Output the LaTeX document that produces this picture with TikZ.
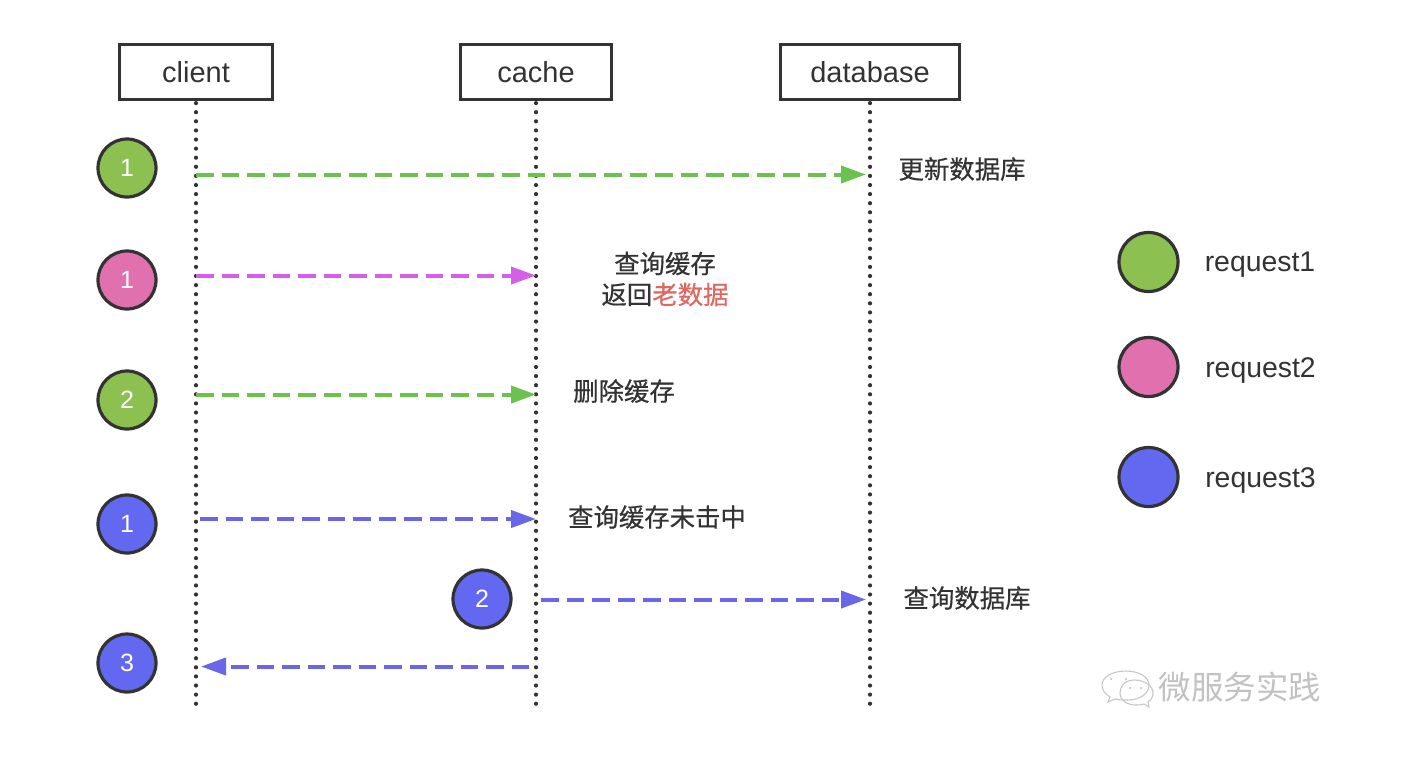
\documentclass[tikz,border=0pt]{standalone}
\usepackage{fontspec}
\setmainfont{Liberation Sans}
\newfontfamily\cjk[FakeBold=0.5]{Noto Sans CJK SC}
\newfontfamily\cjklight{Noto Sans CJK SC}
\usetikzlibrary{arrows.meta}
\definecolor{cgreen}{HTML}{8CC152}
\definecolor{cpink}{HTML}{E070AE}
\definecolor{cblue}{HTML}{6368F0}
\definecolor{agreen}{HTML}{6CC24F}
\definecolor{apink}{HTML}{D45FE8}
\definecolor{ablue}{HTML}{6A66E8}
\definecolor{ink}{HTML}{333333}
\definecolor{oldred}{HTML}{E0675F}
\tikzset{
  x=1pt,y=-1pt,
  actor/.style={draw=ink,line width=3.2pt,fill=white,minimum height=55pt,inner sep=0pt,font=\fontsize{29}{32}\selectfont,text=ink},
  life/.style={draw=ink,line width=4.2pt,line cap=round,dash pattern=on 0pt off 9.1pt},
  badge/.style={circle,draw=ink,line width=3.2pt,minimum size=58pt,inner sep=0pt,text=white,font=\fontsize{25}{28}\selectfont},
  msg/.style={line width=4pt,dash pattern=on 17.5pt off 8pt,-{Triangle[length=25pt,width=17pt]}},
  lab/.style={text=ink,font=\cjk\fontsize{25.4}{31}\selectfont,align=center},
  leg/.style={text=ink,font=\fontsize{28.4}{32}\selectfont},
}
\begin{document}
\begin{tikzpicture}
\useasboundingbox (0,0) rectangle (1412,756);
\fill[white] (0,0) rectangle (1412,756);
% actors
\node[actor,minimum width=153pt] (client) at (196,72) {client};
\node[actor,minimum width=151pt] (cache) at (536,72) {cache};
\node[actor,minimum width=179pt] (database) at (870,72) {database};
\coordinate (clientEnd) at (196,706);
\coordinate (cacheEnd) at (536,706);
\coordinate (databaseEnd) at (870,706);
\draw[life] ([yshift=-2pt]client.south) -- (clientEnd);
\draw[life] ([yshift=-2pt]cache.south) -- (cacheEnd);
\draw[life] ([yshift=-2pt]database.south) -- (databaseEnd);
% badges
\node[badge,fill=cgreen] (g1) at (127,168) {1};
\node[badge,fill=cpink] (p1) at (127,280) {1};
\node[badge,fill=cgreen] (g2) at (127,400) {2};
\node[badge,fill=cblue] (b1) at (127,524) {1};
\node[badge,fill=cblue] (b2) at (482,599) {2};
\node[badge,fill=cblue] (b3) at (127,663) {3};
% message ends
\coordinate (m1s) at (196,174.5);  \coordinate (m1e) at (866,174.5);
\coordinate (m2s) at (196,275.5);  \coordinate (m2e) at (536,275.5);
\coordinate (m3s) at (196,394.5);  \coordinate (m3e) at (536,394.5);
\coordinate (m4s) at (200,519);  \coordinate (m4e) at (536,519);
\coordinate (m5s) at (541,599.5);  \coordinate (m5e) at (866,599.5);
\coordinate (m6s) at (529,666.5);  \coordinate (m6e) at (201,666.5);
\draw[msg,agreen] (m1s) -- (m1e);
\draw[msg,apink] (m2s) -- (m2e);
\draw[msg,agreen] (m3s) -- (m3e);
\draw[msg,ablue] (m4s) -- (m4e);
\draw[msg,ablue] (m5s) -- (m5e);
\draw[msg,ablue] (m6s) -- (m6e);
% labels
\node[lab] (t1) at (962,169) {更新数据库};
\node[lab] (t2) at (665,279) {查询缓存\\返回\textcolor{oldred}{老数据}};
\node[lab] (t3) at (624,391) {删除缓存};
\node[lab] (t4) at (657,517) {查询缓存未击中};
\node[lab] (t5) at (967,598) {查询数据库};
% legend
\node[badge,minimum size=59pt,fill=cgreen] (l1) at (1148.5,262) {};
\node[badge,minimum size=59pt,fill=cpink] (l2) at (1148.5,367) {};
\node[badge,minimum size=59pt,fill=cblue] (l3) at (1148.5,477) {};
\node[leg] (lt1) at (1260,265) {request1};
\node[leg] (lt2) at (1260.5,371) {request2};
\node[leg] (lt3) at (1260.5,481) {request3};
% watermark
\begin{scope}[draw=black!22,fill=white,line width=1.1pt]
\draw (1126,671) .. controls (1112,671) and (1102,677) .. (1102,685) .. controls (1102,690) and (1105,694) .. (1110,697) -- (1108,702) -- (1115,699) .. controls (1119,700) and (1123,700) .. (1127,700) .. controls (1141,700) and (1149,693) .. (1149,685) .. controls (1149,677) and (1139,671) .. (1126,671) -- cycle;
\draw (1134,680) .. controls (1123,680) and (1120,688) .. (1120,693) .. controls (1120,701) and (1128,705) .. (1136,705) .. controls (1139,705) and (1141,705) .. (1144,704) -- (1149,707) -- (1148,702) .. controls (1151,700) and (1153,697) .. (1153,693) .. controls (1153,686) and (1145,680) .. (1134,680) -- cycle;
\end{scope}
\fill[black!25] (1111,679) circle (1.2pt) (1126,679) circle (1.2pt) (1130,688) circle (1.1pt) (1141,688) circle (1.1pt);
\node[text=black!24,font=\cjklight\fontsize{32.5}{36}\selectfont,inner sep=0pt] (wm) at (1240,687) {微服务实践};
\end{tikzpicture}
\end{document}
